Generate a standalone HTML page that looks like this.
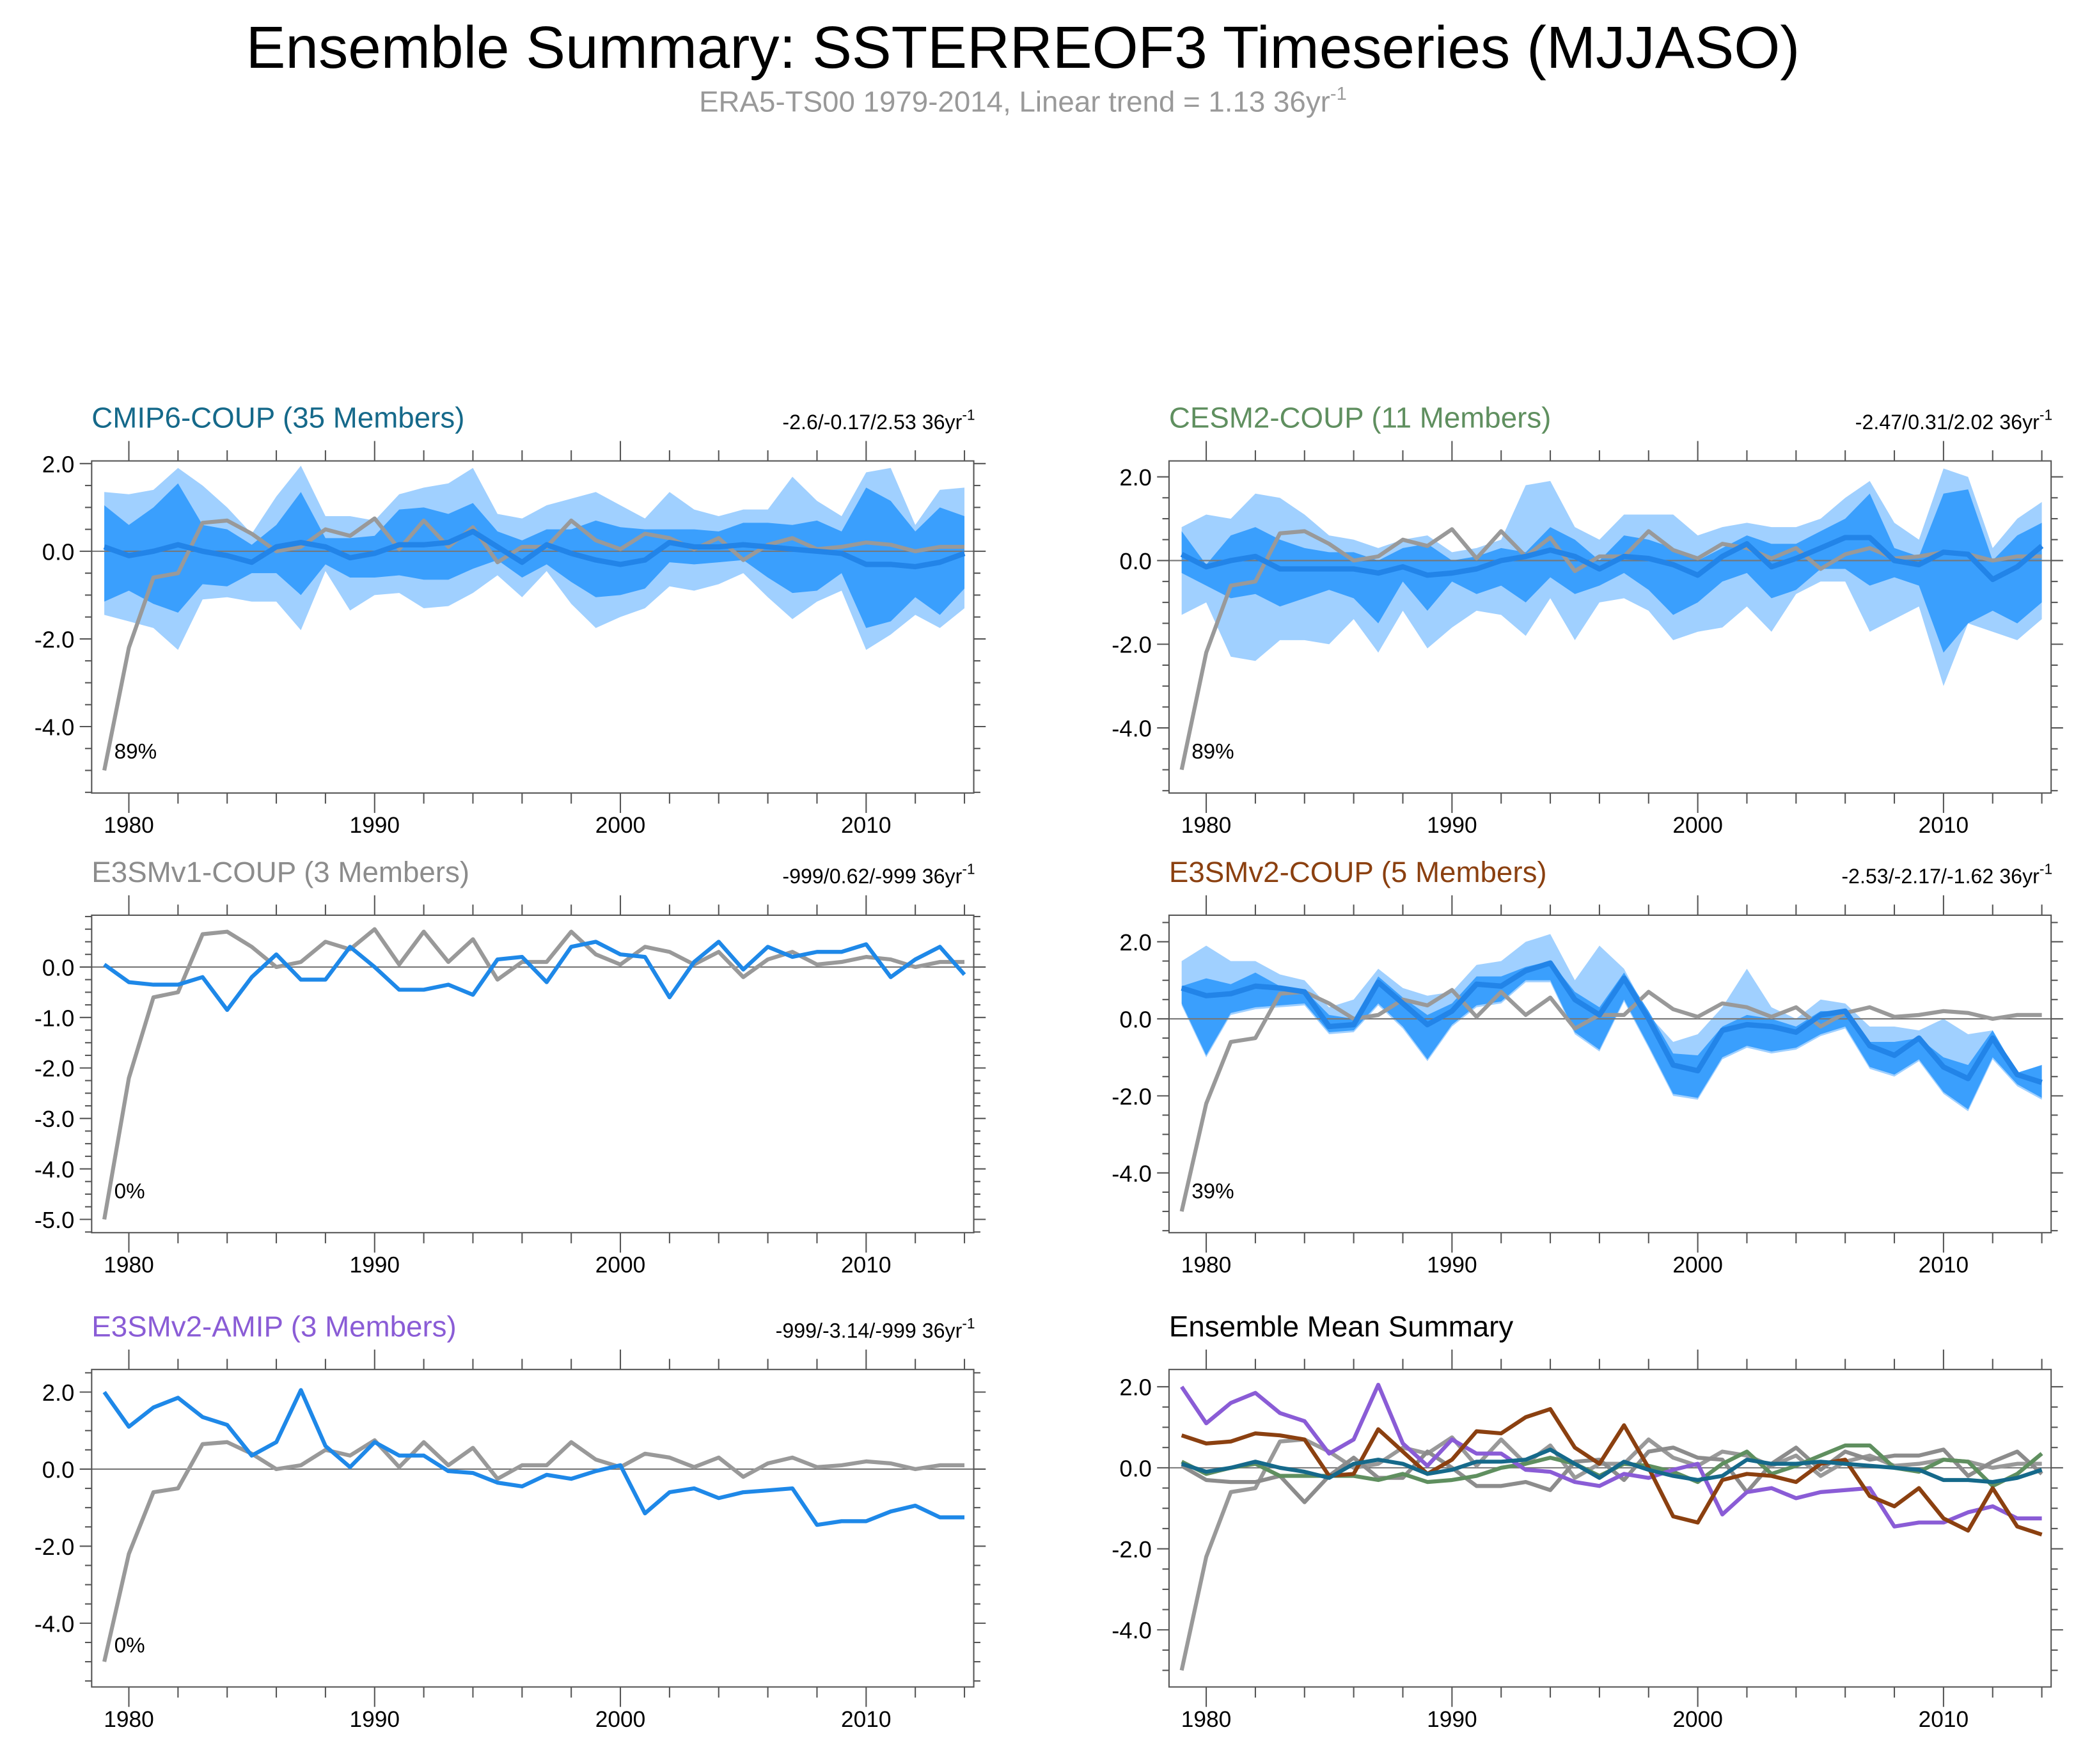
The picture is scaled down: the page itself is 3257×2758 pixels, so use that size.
<!DOCTYPE html>
<html><head><meta charset="utf-8"><style>
html,body{margin:0;padding:0;background:#fff;}
svg{display:block;font-family:"Liberation Sans",sans-serif;}
</style></head><body>
<svg id="chart" width="3257" height="2758" viewBox="0 0 1568 1328" preserveAspectRatio="none" xmlns="http://www.w3.org/2000/svg">
<text x="770" y="51" text-anchor="middle" font-size="44.6" fill="#000">Ensemble Summary: SSTERREOF3 Timeseries (MJJASO)</text>
<text x="770" y="84" text-anchor="middle" font-size="22" fill="#999">ERA5-TS00 1979-2014, Linear trend = 1.13 36yr<tspan dy="-9" font-size="14">-1</tspan></text>
</svg>
<script>
const years = []; for (let y = 1979; y <= 2014; y++) years.push(y);
const xTicks = [1980, 1990, 2000, 2010];
const obs = [-5.0,-2.2,-0.6,-0.5,0.65,0.7,0.4,0.0,0.1,0.5,0.35,0.75,0.05,0.7,0.1,0.55,-0.25,0.1,0.1,0.7,0.25,0.05,0.4,0.3,0.05,0.3,-0.2,0.15,0.3,0.05,0.1,0.2,0.15,0.0,0.1,0.1];

const cmipMean = [0.1,-0.1,0.0,0.15,0.0,-0.1,-0.25,0.1,0.2,0.1,-0.15,-0.05,0.15,0.15,0.2,0.45,0.1,-0.25,0.15,-0.05,-0.2,-0.3,-0.2,0.2,0.1,0.1,0.15,0.1,0.05,0.0,-0.05,-0.3,-0.3,-0.35,-0.25,-0.05];
const cmipOuterHi = [1.35,1.3,1.4,1.9,1.5,1.0,0.4,1.25,1.95,0.8,0.8,0.7,1.3,1.45,1.55,1.9,0.85,0.75,1.05,1.2,1.35,1.05,0.75,1.35,0.95,0.8,0.95,0.95,1.7,1.15,0.8,1.8,1.9,0.6,1.4,1.45];
const cmipOuterLo = [-1.45,-1.6,-1.75,-2.25,-1.1,-1.05,-1.15,-1.15,-1.8,-0.45,-1.35,-1.0,-0.95,-1.3,-1.25,-0.95,-0.55,-1.05,-0.45,-1.2,-1.75,-1.5,-1.3,-0.8,-0.9,-0.75,-0.5,-1.05,-1.55,-1.15,-0.9,-2.25,-1.9,-1.45,-1.75,-1.3];
const cmipInnerHi = [1.05,0.6,1.0,1.55,0.6,0.5,0.15,0.6,1.35,0.3,0.3,0.35,0.95,1.0,0.85,1.1,0.45,0.25,0.5,0.5,0.7,0.55,0.5,0.5,0.5,0.45,0.65,0.65,0.6,0.7,0.45,1.45,1.15,0.45,1.0,0.8];
const cmipInnerLo = [-1.15,-0.9,-1.2,-1.4,-0.75,-0.8,-0.5,-0.5,-1.0,-0.3,-0.6,-0.6,-0.55,-0.65,-0.65,-0.4,-0.2,-0.6,-0.3,-0.7,-1.05,-1.0,-0.85,-0.25,-0.3,-0.25,-0.2,-0.6,-0.95,-0.9,-0.5,-1.75,-1.6,-1.05,-1.45,-0.85];

const cesmMean = [0.15,-0.15,0.0,0.1,-0.2,-0.2,-0.2,-0.2,-0.3,-0.15,-0.35,-0.3,-0.2,0.0,0.1,0.25,0.1,-0.2,0.1,0.05,-0.1,-0.35,0.1,0.4,-0.15,0.05,0.3,0.55,0.55,0.0,-0.1,0.2,0.15,-0.45,-0.15,0.35];
const cesmOuterHi = [0.8,1.1,1.0,1.6,1.5,1.1,0.6,0.5,0.3,0.5,0.6,0.2,0.3,0.5,1.8,1.9,0.8,0.5,1.1,1.1,1.1,0.6,0.8,0.9,0.8,0.8,1.0,1.5,1.9,0.9,0.5,2.2,2.0,0.3,1.0,1.4];
const cesmOuterLo = [-1.3,-1.0,-2.3,-2.4,-1.9,-1.9,-2.0,-1.4,-2.2,-1.2,-2.1,-1.6,-1.2,-1.3,-1.8,-0.9,-1.9,-1.0,-0.9,-1.2,-1.9,-1.7,-1.6,-1.1,-1.7,-0.8,-0.5,-0.5,-1.7,-1.4,-1.1,-3.0,-1.5,-1.7,-1.9,-1.4];
const cesmInnerHi = [0.7,-0.1,0.6,0.8,0.5,0.3,0.2,0.2,0.0,0.3,0.4,0.0,0.1,0.3,0.2,0.8,0.5,0.0,0.6,0.5,0.3,0.0,0.3,0.6,0.4,0.4,0.7,1.0,1.6,0.3,0.1,1.6,1.7,0.0,0.6,0.9];
const cesmInnerLo = [-0.3,-0.6,-0.9,-0.8,-1.1,-0.9,-0.7,-0.9,-1.5,-0.5,-1.2,-0.5,-0.8,-0.6,-1.0,-0.4,-0.8,-0.6,-0.3,-0.7,-1.3,-1.0,-0.5,-0.3,-0.9,-0.7,-0.2,-0.2,-0.6,-0.4,-0.6,-2.2,-1.5,-1.2,-1.5,-1.0];

const e3v1 = [0.05,-0.3,-0.35,-0.35,-0.2,-0.85,-0.2,0.25,-0.25,-0.25,0.4,0.0,-0.45,-0.45,-0.35,-0.55,0.15,0.2,-0.3,0.4,0.5,0.25,0.2,-0.6,0.1,0.5,-0.05,0.4,0.2,0.3,0.3,0.45,-0.2,0.15,0.4,-0.15];

const e3v2Mean = [0.8,0.6,0.65,0.85,0.8,0.7,-0.2,-0.15,0.95,0.4,-0.15,0.2,0.9,0.85,1.25,1.45,0.5,0.1,1.05,0.0,-1.2,-1.35,-0.3,-0.15,-0.2,-0.35,0.1,0.2,-0.7,-0.95,-0.5,-1.25,-1.55,-0.5,-1.45,-1.65];
const e3v2OuterHi = [1.5,1.9,1.5,1.5,1.15,1.0,0.3,0.5,1.3,0.8,0.6,0.7,1.4,1.5,2.0,2.2,1.0,1.9,1.3,0.1,-0.6,-0.4,0.3,1.3,0.3,0.0,0.5,0.4,-0.2,-0.2,-0.3,0.0,-0.4,-0.3,-1.4,-1.2];
const e3v2OuterLo = [0.35,-1.0,0.1,0.25,0.3,0.35,-0.4,-0.35,0.35,-0.25,-1.1,-0.2,0.3,0.4,0.95,0.95,-0.4,-0.85,0.45,-0.75,-2.0,-2.1,-1.05,-0.75,-0.9,-0.8,-0.45,-0.25,-1.3,-1.5,-1.1,-1.95,-2.4,-1.05,-1.75,-2.1];
const e3v2InnerHi = [0.85,1.05,0.9,1.2,0.85,0.75,0.1,0.0,1.1,0.55,0.1,0.4,1.1,1.1,1.35,1.5,0.7,0.3,1.2,0.2,-0.9,-0.95,-0.2,0.1,0.0,-0.2,0.2,0.2,-0.6,-0.6,-0.5,-1.0,-1.2,-0.3,-1.4,-1.2];
const e3v2InnerLo = [0.4,-0.95,0.15,0.3,0.35,0.4,-0.35,-0.3,0.4,-0.2,-1.05,-0.15,0.35,0.45,1.0,1.0,-0.35,-0.8,0.5,-0.7,-1.95,-2.05,-1.0,-0.7,-0.85,-0.75,-0.4,-0.2,-1.25,-1.45,-1.05,-1.9,-2.35,-1.0,-1.7,-2.05];

const amip = [2.0,1.1,1.6,1.85,1.35,1.15,0.35,0.7,2.05,0.6,0.05,0.7,0.35,0.35,-0.05,-0.1,-0.35,-0.45,-0.15,-0.25,-0.05,0.1,-1.15,-0.6,-0.5,-0.75,-0.6,-0.55,-0.5,-1.45,-1.35,-1.35,-1.1,-0.95,-1.25,-1.25];

const ticks2 = [2, 0, -2, -4];
const ticks1 = [0, -1, -2, -3, -4, -5];

const svg = document.getElementById('chart');
const NS = 'http://www.w3.org/2000/svg';
function mk(tag, attrs, parent) {
  const e = document.createElementNS(NS, tag);
  for (const k in attrs) e.setAttribute(k, attrs[k]);
  (parent || svg).appendChild(e);
  return e;
}

function makePanel(p) {
  const g = mk('g', {});
  
  
  const xL = p.x0, xR = p.x0 + 664, yT = p.y0, yB = p.y0 + p.h;
  const xs = yr => xL + 9.5 + (yr - 1979) * 18.5;
  const ys = v => p.zeroY - v * p.ppu;
  const cid = 'clip-' + p.name;
  const cp = mk('clipPath', {id: cid}, g);
  mk('rect', {x: xL, y: yT, width: 664, height: p.h}, cp);
  const plot = mk('g', {'clip-path': 'url(#' + cid + ')'}, g);
  function band(hi, lo, color, nm) {
    let d = '';
    years.forEach((yr, i) => { d += (i ? 'L' : 'M') + xs(yr).toFixed(1) + ',' + ys(hi[i]).toFixed(1); });
    for (let i = years.length - 1; i >= 0; i--) d += 'L' + xs(years[i]).toFixed(1) + ',' + ys(lo[i]).toFixed(1);
    const e = mk('path', {d: d + 'Z', fill: color, stroke: 'none'}, plot);
    
    
  }
  function line(vals, color, w, nm) {
    const pts = years.map((yr, i) => xs(yr).toFixed(1) + ',' + ys(vals[i]).toFixed(1)).join(' ');
    const e = mk('polyline', {points: pts, fill: 'none', stroke: color, 'stroke-width': w, 'stroke-linejoin': 'round'}, plot);
    
    
  }
  if (p.outer) band(p.outer[0], p.outer[1], '#a0d0ff', 'outer-spread-band');
  if (p.inner) band(p.inner[0], p.inner[1], '#3a9ffd', 'inner-spread-band');
  const zl = mk('line', {x1: xL, x2: xR, y1: ys(0), y2: ys(0), stroke: '#777', 'stroke-width': 1}, plot);
  
  
  (p.lines || []).forEach(l => line(l.v, l.c, l.w, l.n));
  const box = mk('rect', {x: xL, y: yT, width: 664, height: p.h, fill: 'none', stroke: '#555', 'stroke-width': 1}, g);
  
  
  for (let yr = 1980; yr <= 2014; yr += 2) {
    const maj = xTicks.includes(yr);
    const L = maj ? 15 : 8;
    mk('line', {x1: xs(yr), x2: xs(yr), y1: yB, y2: yB + L, stroke: '#555', 'stroke-width': 1}, g);
    mk('line', {x1: xs(yr), x2: xs(yr), y1: yT, y2: yT - L, stroke: '#555', 'stroke-width': 1}, g);
  }
  xTicks.forEach(t => {
    const tx = mk('text', {x: xs(t), y: yB + 30, 'text-anchor': 'middle', 'font-size': 17, fill: '#000'}, g);
    tx.textContent = t;
    
    
  });
  const vTop = (p.zeroY - yT) / p.ppu, vBot = (p.zeroY - yB) / p.ppu;
  for (let v = Math.ceil(vBot / p.minor) * p.minor; v <= vTop + 1e-6; v += p.minor) {
    const maj = p.ticks.some(t => Math.abs(t - v) < 1e-6);
    const L = maj ? 9 : 5;
    mk('line', {x1: xL, x2: xL - L, y1: ys(v), y2: ys(v), stroke: '#555', 'stroke-width': 1}, g);
    mk('line', {x1: xR, x2: xR + L, y1: ys(v), y2: ys(v), stroke: '#555', 'stroke-width': 1}, g);
  }
  p.ticks.forEach(t => {
    const tx = mk('text', {x: xL - 13, y: ys(t) + 6.5, 'text-anchor': 'end', 'font-size': 17.5, fill: '#000'}, g);
    tx.textContent = t.toFixed(1);
    
    
  });
  const ti = mk('text', {x: xL, y: yT - 25, 'font-size': 22, fill: p.tcolor}, g);
  ti.textContent = p.title;
  
  
  if (p.stat) {
    const st = mk('text', {x: xR + 1, y: yT - 24, 'text-anchor': 'end', 'font-size': 15.5, fill: '#000'}, g);
    st.innerHTML = p.stat + ' 36yr<tspan dy="-7" font-size="11">-1</tspan>';
    
    
  }
  if (p.pct) {
    const pc = mk('text', {x: xL + 17, y: yB - 26, 'font-size': 16, fill: '#000'}, g);
    pc.textContent = p.pct;
    
    
  }
}

makePanel({name: 'cmip6-coup-panel', x0: 69, y0: 347, h: 250, zeroY: 415, ppu: 33, ticks: ticks2, minor: 0.5,
  title: 'CMIP6-COUP (35 Members)', tcolor: '#15698a', stat: '-2.6/-0.17/2.53', pct: '89%',
  outer: [cmipOuterHi, cmipOuterLo], inner: [cmipInnerHi, cmipInnerLo],
  lines: [{v: obs, c: '#999', w: 3, n: 'observed-line'}, {v: cmipMean, c: '#2284e8', w: 4, n: 'ensemble-mean-line'}]});
makePanel({name: 'cesm2-coup-panel', x0: 880, y0: 347, h: 250, zeroY: 422, ppu: 31.5, ticks: ticks2, minor: 0.5,
  title: 'CESM2-COUP (11 Members)', tcolor: '#5f8f5f', stat: '-2.47/0.31/2.02', pct: '89%',
  outer: [cesmOuterHi, cesmOuterLo], inner: [cesmInnerHi, cesmInnerLo],
  lines: [{v: obs, c: '#999', w: 3, n: 'observed-line'}, {v: cesmMean, c: '#2284e8', w: 4, n: 'ensemble-mean-line'}]});
makePanel({name: 'e3smv1-coup-panel', x0: 69, y0: 689, h: 239, zeroY: 728, ppu: 38, ticks: ticks1, minor: 0.25,
  title: 'E3SMv1-COUP (3 Members)', tcolor: '#8c8c8c', stat: '-999/0.62/-999', pct: '0%',
  lines: [{v: obs, c: '#999', w: 3, n: 'observed-line'}, {v: e3v1, c: '#1e88e8', w: 3, n: 'ensemble-mean-line'}]});
makePanel({name: 'e3smv2-coup-panel', x0: 880, y0: 689, h: 239, zeroY: 767, ppu: 29, ticks: ticks2, minor: 0.5,
  title: 'E3SMv2-COUP (5 Members)', tcolor: '#8b4010', stat: '-2.53/-2.17/-1.62', pct: '39%',
  outer: [e3v2OuterHi, e3v2OuterLo], inner: [e3v2InnerHi, e3v2InnerLo],
  lines: [{v: obs, c: '#999', w: 3, n: 'observed-line'}, {v: e3v2Mean, c: '#2284e8', w: 4, n: 'ensemble-mean-line'}]});
makePanel({name: 'e3smv2-amip-panel', x0: 69, y0: 1031, h: 239, zeroY: 1106, ppu: 29, ticks: ticks2, minor: 0.5,
  title: 'E3SMv2-AMIP (3 Members)', tcolor: '#8a5cd6', stat: '-999/-3.14/-999', pct: '0%',
  lines: [{v: obs, c: '#999', w: 3, n: 'observed-line'}, {v: amip, c: '#1e88e8', w: 3, n: 'ensemble-mean-line'}]});
makePanel({name: 'ensemble-mean-summary-panel', x0: 880, y0: 1031, h: 239, zeroY: 1105, ppu: 30.5, ticks: ticks2, minor: 0.5,
  title: 'Ensemble Mean Summary', tcolor: '#000',
  lines: [{v: obs, c: '#999', w: 3, n: 'observed-line'},
          {v: e3v1, c: '#8c8c8c', w: 3, n: 'e3smv1-mean-line'},
          {v: cesmMean, c: '#5f8f5f', w: 3, n: 'cesm2-mean-line'},
          {v: amip, c: '#8a5cd6', w: 3, n: 'amip-mean-line'},
          {v: e3v2Mean, c: '#8b4010', w: 3, n: 'e3smv2-mean-line'},
          {v: cmipMean, c: '#15698a', w: 3, n: 'cmip6-mean-line'}]});
</script>
</body></html>
